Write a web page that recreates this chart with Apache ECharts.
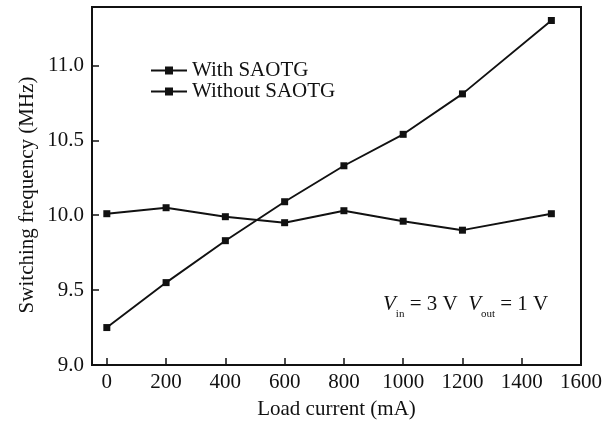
<!DOCTYPE html>
<html>
<head>
<meta charset="utf-8">
<script src="https://cdn.jsdelivr.net/npm/echarts@6/dist/echarts.min.js"></script>
<style>
  html, body { margin: 0; padding: 0; background: #fff; }
  #chart { width: 614px; height: 426px; }
</style>
</head>
<body>
<div id="chart"></div>
<script>
// Load current (mA) at each measurement point
const loadCurrent = [0, 200, 400, 600, 800, 1000, 1200, 1500];
// Switching frequency (MHz)
const withSaotg = [9.25, 9.55, 9.83, 10.09, 10.33, 10.54, 10.81, 11.30];
const withoutSaotg = [10.01, 10.05, 9.99, 9.95, 10.03, 9.96, 9.90, 10.01];
// Tick labels
const xTicks = [0, 200, 400, 600, 800, 1000, 1200, 1400, 1600];
const yTicks = [9.0, 9.5, 10.0, 10.5, 11.0];

const FONT = '"Liberation Serif", "Times New Roman", serif';
const INK = '#111';
const FS = 21;

const pairs = (xs, ys) => xs.map((x, i) => [x, ys[i]]);

const chart = echarts.init(document.getElementById('chart'), null, { renderer: 'canvas' });

const lineSeries = (name, values) => ({
  name,
  type: 'line',
  data: pairs(loadCurrent, values),
  symbol: 'rect',
  symbolSize: 7,
  showSymbol: true,
  lineStyle: { color: INK, width: 1.9 },
  itemStyle: { color: INK },
  animation: false
});

chart.setOption({
  backgroundColor: '#fff',
  animation: false,
  grid: {
    left: 92, top: 7, right: 33, bottom: 61,
    show: true, borderColor: INK, borderWidth: 2, backgroundColor: 'transparent'
  },
  legend: {
    orient: 'vertical',
    left: 145, top: 55,
    itemWidth: 36, itemHeight: 10, itemGap: 0,
    textStyle: { fontFamily: FONT, fontSize: FS, color: INK },
    data: ['With SAOTG', 'Without SAOTG']
  },
  xAxis: {
    type: 'value',
    min: -50, max: 1600,
    splitNumber: 8,
    name: 'Load current (mA)',
    nameLocation: 'middle',
    nameGap: 34,
    nameTextStyle: { fontFamily: FONT, fontSize: FS, color: INK },
    axisLine: { show: true, onZero: false, lineStyle: { color: INK, width: 2 } },
    axisTick: { show: true, inside: true, length: 7, lineStyle: { color: INK, width: 1.5 }, customValues: xTicks.slice(0, -1) },
    axisLabel: {
      fontFamily: FONT, fontSize: FS, color: INK, margin: 7,
      customValues: xTicks,
      formatter: v => String(v)
    },
    splitLine: { show: false }
  },
  yAxis: {
    type: 'value',
    min: 9.0, max: 11.39,
    interval: 0.5,
    axisLine: { show: true, onZero: false, lineStyle: { color: INK, width: 2 } },
    axisTick: { show: true, inside: true, length: 7, lineStyle: { color: INK, width: 1.5 }, customValues: yTicks },
    axisLabel: {
      fontFamily: FONT, fontSize: FS, color: INK, margin: 8,
      customValues: yTicks,
      formatter: v => v.toFixed(1)
    },
    splitLine: { show: false }
  },
  graphic: [{
    type: 'text',
    x: 27, y: 195,
    rotation: Math.PI / 2,
    style: {
      text: 'Switching frequency (MHz)',
      fontFamily: FONT, fontSize: FS, fill: INK,
      align: 'center', verticalAlign: 'middle'
    }
  }, {
    type: 'text',
    left: 383, top: 294,
    style: {
      text: '{v|V}{s|in}{t| = 3 V  }{v|V}{s|out}{t| = 1 V}',
      rich: {
        v: { fontFamily: FONT, fontSize: FS, fontStyle: 'italic', fill: INK, lineHeight: 24, verticalAlign: 'bottom' },
        s: { fontFamily: FONT, fontSize: 11, fill: INK, lineHeight: 24, verticalAlign: 'bottom', padding: [0, 0, -5, 0] },
        t: { fontFamily: FONT, fontSize: FS, fill: INK, lineHeight: 24, verticalAlign: 'bottom' }
      }
    }
  }],
  series: [
    lineSeries('With SAOTG', withSaotg),
    lineSeries('Without SAOTG', withoutSaotg)
  ]
});
</script>
</body>
</html>
